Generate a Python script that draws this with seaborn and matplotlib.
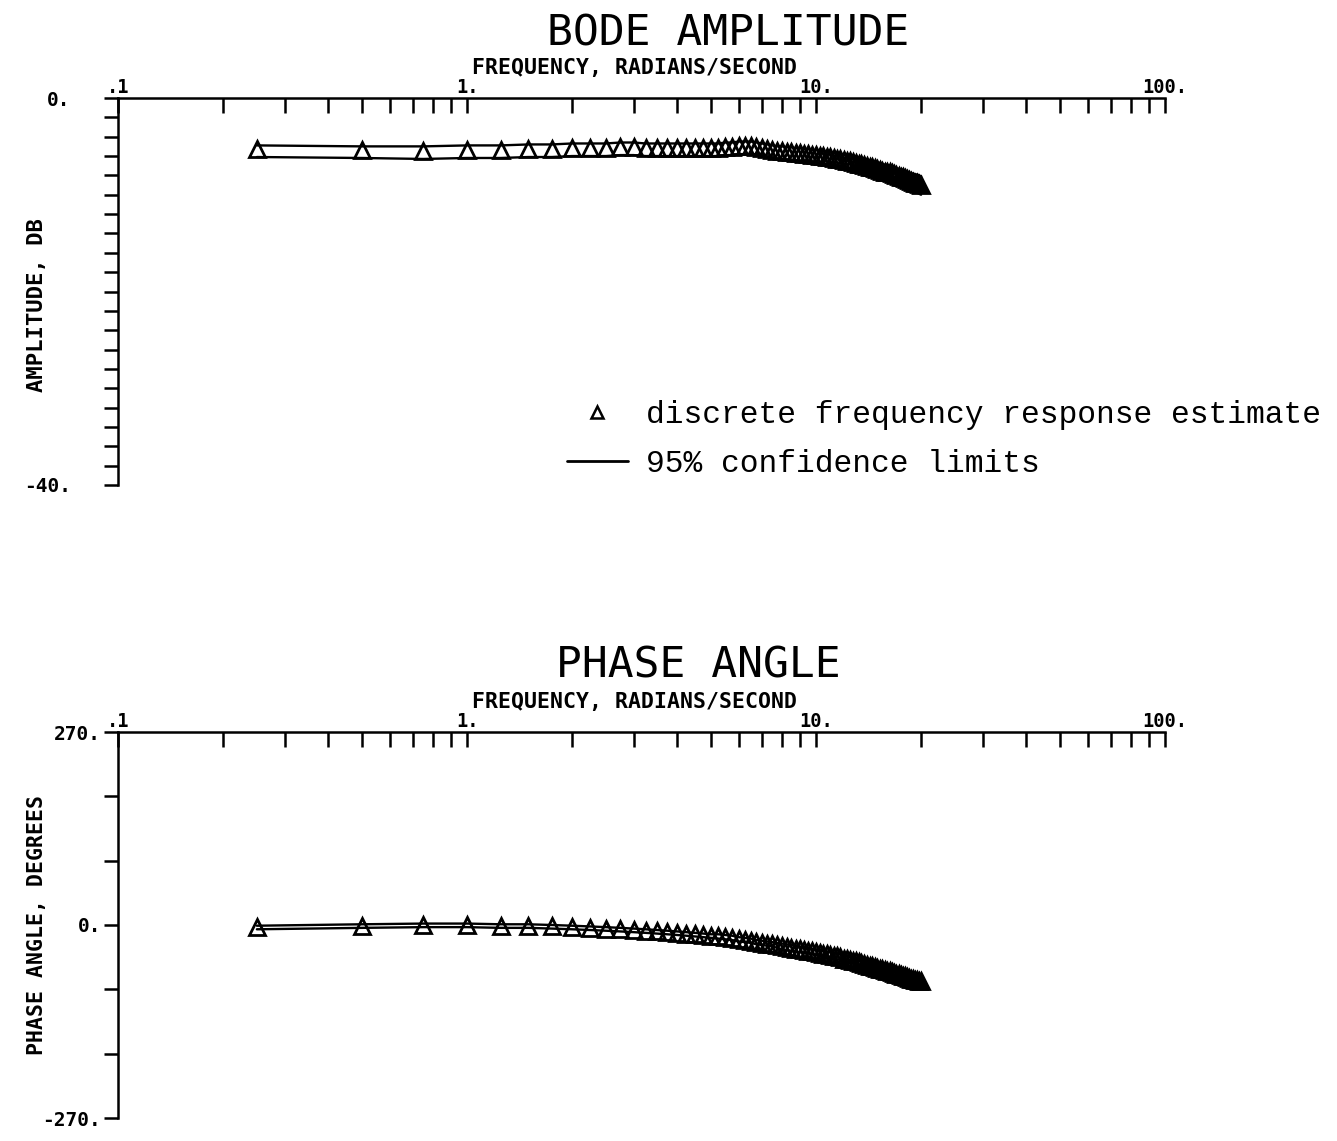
import numpy as np
import pandas as pd
import matplotlib
matplotlib.use("Agg")
import matplotlib.pyplot as plt
import seaborn as sns
from matplotlib.ticker import FixedLocator, FixedFormatter, LogLocator, NullFormatter
from matplotlib.lines import Line2D

# ---------------- data ----------------
freq = [0.25, 0.5, 0.75, 1.0, 1.25, 1.5, 1.75, 2.0,
        2.25, 2.5, 2.75, 3.0, 3.25, 3.5, 3.75, 4.0,
        4.25, 4.5, 4.75, 5.0, 5.25, 5.5, 5.75, 6.0,
        6.25, 6.5, 6.75, 7.0, 7.25, 7.5, 7.75, 8.0,
        8.25, 8.5, 8.75, 9.0, 9.25, 9.5, 9.75, 10.0,
        10.25, 10.5, 10.75, 11.0, 11.25, 11.5, 11.75, 12.0,
        12.25, 12.5, 12.75, 13.0, 13.25, 13.5, 13.75, 14.0,
        14.25, 14.5, 14.75, 15.0, 15.25, 15.5, 15.75, 16.0,
        16.25, 16.5, 16.75, 17.0, 17.25, 17.5, 17.75, 18.0,
        18.25, 18.5, 18.75, 19.0, 19.25, 19.5, 19.75, 20.0]

amp_est = [-5.3, -5.4, -5.5, -5.4, -5.4, -5.3, -5.3, -5.2,
           -5.2, -5.2, -5.1, -5.1, -5.2, -5.2, -5.2, -5.2,
           -5.2, -5.2, -5.2, -5.2, -5.2, -5.1, -5.1, -5.0,
           -5.0, -5.0, -5.1, -5.2, -5.3, -5.4, -5.5, -5.5,
           -5.6, -5.6, -5.7, -5.7, -5.8, -5.8, -5.9, -5.9,
           -6.0, -6.0, -6.1, -6.1, -6.2, -6.3, -6.3, -6.4,
           -6.5, -6.5, -6.6, -6.7, -6.8, -6.8, -6.9, -7.0,
           -7.1, -7.1, -7.2, -7.3, -7.4, -7.5, -7.6, -7.6,
           -7.7, -7.8, -7.9, -8.0, -8.1, -8.2, -8.2, -8.3,
           -8.4, -8.5, -8.6, -8.7, -8.8, -8.8, -8.9, -9.0]

amp_upper = [-4.9, -5.0, -5.0, -4.9, -4.9, -4.8, -4.8, -4.7,
             -4.7, -4.7, -4.6, -4.6, -4.7, -4.7, -4.7, -4.7,
             -4.7, -4.7, -4.7, -4.7, -4.7, -4.6, -4.6, -4.5,
             -4.5, -4.5, -4.6, -4.7, -4.8, -4.9, -5.0, -5.0,
             -5.1, -5.1, -5.2, -5.2, -5.3, -5.3, -5.4, -5.4,
             -5.5, -5.5, -5.6, -5.6, -5.7, -5.8, -5.8, -5.9,
             -5.9, -5.9, -6.0, -6.1, -6.2, -6.2, -6.3, -6.4,
             -6.5, -6.5, -6.6, -6.7, -6.7, -6.8, -6.9, -6.9,
             -7.0, -7.1, -7.2, -7.3, -7.3, -7.4, -7.4, -7.5,
             -7.6, -7.7, -7.8, -7.8, -7.9, -7.9, -8.0, -8.1]

amp_lower = [-6.1, -6.2, -6.3, -6.2, -6.2, -6.1, -6.1, -6.0,
             -6.0, -6.0, -5.9, -5.9, -6.0, -6.0, -6.0, -6.0,
             -6.0, -6.0, -6.0, -6.0, -6.0, -5.9, -5.9, -5.8,
             -5.8, -5.8, -5.9, -6.0, -6.1, -6.2, -6.3, -6.3,
             -6.4, -6.4, -6.5, -6.5, -6.6, -6.6, -6.7, -6.7,
             -6.8, -6.8, -6.9, -6.9, -7.0, -7.1, -7.1, -7.2,
             -7.3, -7.3, -7.4, -7.5, -7.6, -7.7, -7.8, -7.9,
             -8.0, -8.0, -8.1, -8.2, -8.3, -8.4, -8.5, -8.5,
             -8.6, -8.7, -8.8, -8.9, -9.0, -9.1, -9.2, -9.3,
             -9.4, -9.5, -9.6, -9.7, -9.8, -9.8, -9.9, -10.0]

phase_est = [-3, -1, 0, 0, -1, -1, -2, -3,
             -4, -5, -6, -7, -8, -9, -10, -11,
             -12, -13, -14, -15, -16, -17, -18, -20,
             -21, -22, -24, -25, -26, -27, -28, -30,
             -31, -32, -33, -34, -35, -36, -37, -38,
             -39, -40, -41, -42, -43, -44, -45, -47,
             -48, -49, -50, -51, -52, -53, -54, -56,
             -57, -58, -59, -60, -61, -62, -63, -64,
             -65, -66, -67, -68, -69, -70, -71, -72,
             -73, -74, -75, -76, -77, -77, -78, -79]

phase_upper = [-1, 1, 2, 2, 1, 1, 0, -1,
               -2, -3, -4, -5, -6, -7, -8, -9,
               -10, -11, -12, -13, -13, -14, -15, -17,
               -18, -19, -21, -22, -23, -24, -25, -26,
               -27, -28, -29, -30, -31, -32, -33, -34,
               -35, -36, -37, -38, -39, -40, -41, -42,
               -43, -44, -45, -46, -47, -48, -49, -51,
               -52, -53, -54, -55, -56, -57, -58, -59,
               -60, -61, -62, -63, -64, -65, -66, -67,
               -68, -69, -70, -71, -72, -72, -73, -74]

phase_lower = [-6, -4, -3, -3, -4, -4, -5, -6,
               -7, -8, -9, -10, -11, -12, -13, -14,
               -15, -16, -17, -18, -19, -20, -21, -23,
               -24, -25, -27, -28, -29, -30, -32, -34,
               -35, -36, -37, -38, -39, -40, -41, -42,
               -43, -44, -45, -46, -47, -48, -49, -51,
               -52, -53, -54, -55, -56, -57, -58, -60,
               -61, -62, -63, -64, -65, -66, -67, -68,
               -69, -70, -71, -72, -73, -74, -75, -76,
               -77, -78, -79, -80, -81, -81, -82, -83]

x_tick_vals = [0.1, 1, 10, 100]
x_tick_labels = [".1", "1.", "10.", "100."]
amp_tick_labels = {0: "0.", -40: "-40."}
phase_tick_labels = {270: "270.", 0: "0.", -270: "-270."}

amp_df = pd.DataFrame({"freq": freq, "est": amp_est, "upper": amp_upper, "lower": amp_lower})
phase_df = pd.DataFrame({"freq": freq, "est": phase_est, "upper": phase_upper, "lower": phase_lower})

# ---------------- style ----------------
sns.set_style("white")
plt.rcParams["font.family"] = ["DejaVu Sans Mono", "DejaVu Sans"]
plt.rcParams["axes.linewidth"] = 1.8
plt.rcParams["text.color"] = "black"
plt.rcParams["axes.labelcolor"] = "black"

W, H = 1337, 1141
fig = plt.figure(figsize=(W / 100, H / 100), dpi=100)
ax1 = fig.add_axes([118 / W, 1 - 485 / H, 1047 / W, 387 / H])
ax2 = fig.add_axes([118 / W, 1 - 1118 / H, 1047 / W, 386 / H])

LW = 1.7
MS = 11
MEW = 2.0


def draw(ax, df):
    sns.lineplot(data=df, x="freq", y="upper", ax=ax, color="black", lw=LW, estimator=None)
    sns.lineplot(data=df, x="freq", y="lower", ax=ax, color="black", lw=LW, estimator=None)
    sns.lineplot(data=df, x="freq", y="est", ax=ax, color="black", estimator=None,
                 linestyle="none", marker="^", markersize=MS, markerfacecolor="none",
                 markeredgecolor="black", markeredgewidth=MEW)


def style_axes(ax, ylim, yticks, ylabels, ypad):
    ax.set_xscale("log")
    ax.set_xlim(0.1, 100)
    ax.set_ylim(*ylim)
    for s in ["right", "bottom"]:
        ax.spines[s].set_visible(False)
    for s in ["top", "left"]:
        ax.spines[s].set_color("black")
        ax.spines[s].set_linewidth(1.8)
    ax.xaxis.set_ticks_position("top")
    ax.xaxis.set_major_locator(FixedLocator(x_tick_vals))
    ax.xaxis.set_major_formatter(FixedFormatter(x_tick_labels))
    ax.xaxis.set_minor_locator(LogLocator(base=10, subs=[2, 3, 4, 5, 6, 7, 8, 9]))
    ax.xaxis.set_minor_formatter(NullFormatter())
    ax.tick_params(axis="x", which="both", direction="in", length=11, width=1.8,
                   top=True, bottom=False, labeltop=True, labelbottom=False,
                   pad=1, labelsize=13.5, colors="black")
    ax.yaxis.set_major_locator(FixedLocator(yticks))
    ax.yaxis.set_major_formatter(FixedFormatter([ylabels.get(v, "") for v in yticks]))
    ax.tick_params(axis="y", which="major", direction="out", length=10, width=1.8,
                   left=True, right=False, pad=ypad, labelsize=14, colors="black")
    for lbl in ax.get_xticklabels() + ax.get_yticklabels():
        lbl.set_fontweight("bold")
    ax.set_xlabel("")
    ax.set_ylabel("")
    ax.grid(False)


draw(ax1, amp_df)
draw(ax2, phase_df)
style_axes(ax1, (-40, 0), list(range(-40, 1, 2)), amp_tick_labels, 24)
style_axes(ax2, (-270, 270), [-270, -180, -90, 0, 90, 180, 270], phase_tick_labels, 2)

# titles and axis labels
fig.text(728 / W, 1 - 33 / H, "BODE AMPLITUDE", ha="center", va="center", fontsize=31)
fig.text(698 / W, 1 - 666 / H, "PHASE ANGLE", ha="center", va="center", fontsize=31)
fig.text(634 / W, 1 - 68 / H, "FREQUENCY, RADIANS/SECOND", ha="center", va="center",
         fontsize=15.5, fontweight="bold")
fig.text(634 / W, 1 - 702 / H, "FREQUENCY, RADIANS/SECOND", ha="center", va="center",
         fontsize=15.5, fontweight="bold")
fig.text(37 / W, 1 - 305 / H, "AMPLITUDE, DB", ha="center", va="center", rotation=90,
         fontsize=16, fontweight="bold")
fig.text(37 / W, 1 - 925 / H, "PHASE ANGLE, DEGREES", ha="center", va="center", rotation=90,
         fontsize=15.5, fontweight="bold")

# legend
handles = [Line2D([], [], linestyle="none", marker="^", markersize=9, markerfacecolor="none",
                  markeredgecolor="black", markeredgewidth=1.8),
           Line2D([], [], color="black", lw=2)]
labels = ["discrete frequency response estimate", "95% confidence limits"]
ax1.legend(handles, labels, loc="upper left", bbox_to_anchor=(567 / W, 1 - 400 / H),
           bbox_transform=fig.transFigure, frameon=False,
           prop={"family": "Liberation Mono", "size": 22.5},
           handlelength=1.95, handletextpad=0.57, borderpad=0, labelspacing=0.62,
           borderaxespad=0)

fig.savefig("out.png", dpi=100)
